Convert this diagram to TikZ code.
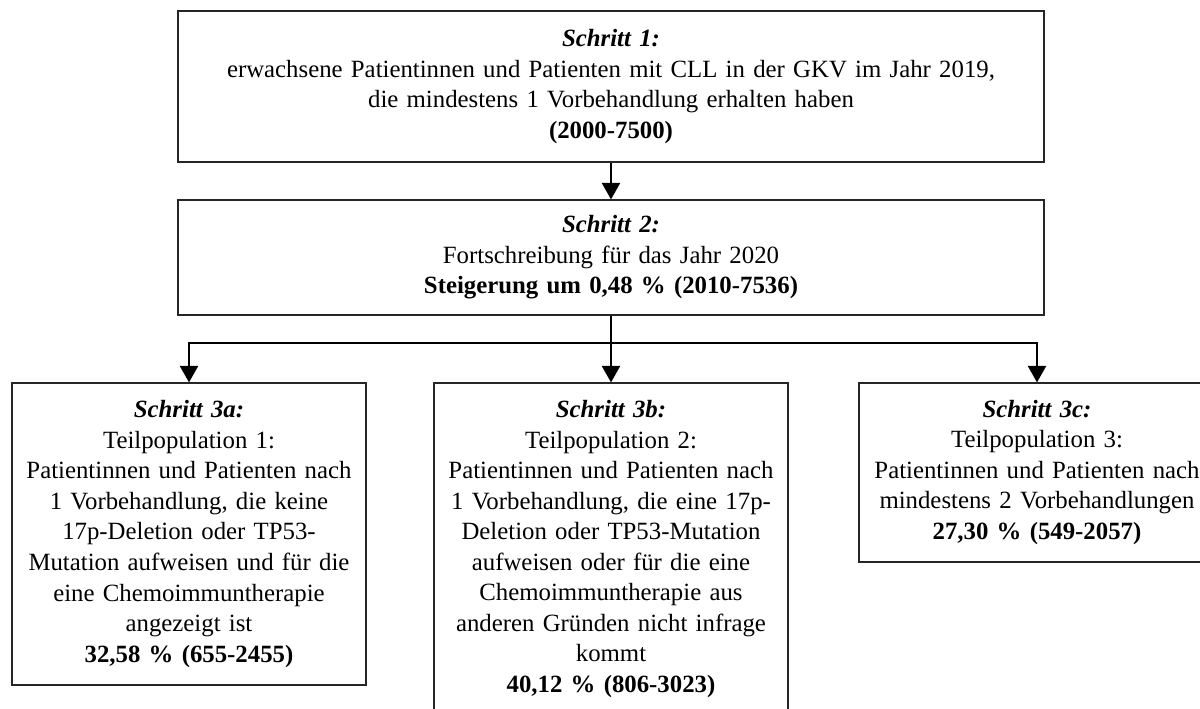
\documentclass[tikz,border=0pt]{standalone}
\usepackage{fontspec}
\setmainfont{Liberation Serif}
\usetikzlibrary{arrows.meta}
\tikzset{
  stepbox/.style={draw=black!85, line width=0.8pt, inner sep=0pt, align=center,
    font=\fontsize{18.6}{22.9}\selectfont},
  conn/.style={line width=2.1pt, -{Triangle[width=13.5pt,length=12.5pt]}},
  plainconn/.style={line width=2.1pt}
}
\newcommand{\stitle}[1]{\textbf{\textit{#1}}}
\begin{document}
\begin{tikzpicture}[x=0.75pt,y=-0.75pt]
\path[use as bounding box] (0,0) rectangle (1200,709);
\clip (0,0) rectangle (1200,709);
\node[stepbox, minimum width=866*0.75pt, minimum height=151*0.75pt, text width=850*0.75pt] (b1) at (611,86.5)
 {\stitle{Schritt 1:}\\erwachsene Patientinnen und Patienten mit CLL in der GKV im Jahr 2019,\\die mindestens 1 Vorbehandlung erhalten haben\\\textbf{(2000-7500)}};
\node[stepbox, minimum width=866*0.75pt, minimum height=115*0.75pt, text width=850*0.75pt] (b2) at (611,257.5)
 {\stitle{Schritt 2:}\\Fortschreibung für das Jahr 2020\\\textbf{Steigerung um 0,48 \% (2010-7536)}};
\node[stepbox, minimum width=354*0.75pt, minimum height=302*0.75pt, text width=350*0.75pt] (b3a) at (189,534)
 {\stitle{Schritt 3a:}\\Teilpopulation 1:\\Patientinnen und Patienten nach\\1 Vorbehandlung, die keine\\17p-Deletion oder TP53-\\Mutation aufweisen und für die\\eine Chemoimmuntherapie\\angezeigt ist\\\textbf{32,58 \% (655-2455)}};
\node[stepbox, minimum width=354*0.75pt, minimum height=332*0.75pt, text width=350*0.75pt] (b3b) at (611,549)
 {\stitle{Schritt 3b:}\\Teilpopulation 2:\\Patientinnen und Patienten nach\\1 Vorbehandlung, die eine 17p-\\Deletion oder TP53-Mutation\\aufweisen oder für die eine\\Chemoimmuntherapie aus\\anderen Gründen nicht infrage\\kommt\\\textbf{40,12 \% (806-3023)}};
\node[stepbox, minimum width=356*0.75pt, minimum height=179*0.75pt, text width=352*0.75pt] (b3c) at (1037,472.5)
 {\stitle{Schritt 3c:}\\Teilpopulation 3:\\Patientinnen und Patienten nach\\mindestens 2 Vorbehandlungen\\\textbf{27,30 \% (549-2057)}};
\coordinate (split) at (611,343);
\draw[conn] (b1.south) -- (b2.north);
\draw[plainconn] (b2.south) -- (split);
\draw[conn] (split) -| (b3a.north);
\draw[conn] (split) -| (b3c.north);
\draw[conn] (split) -- (b3b.north);
\end{tikzpicture}
\end{document}
